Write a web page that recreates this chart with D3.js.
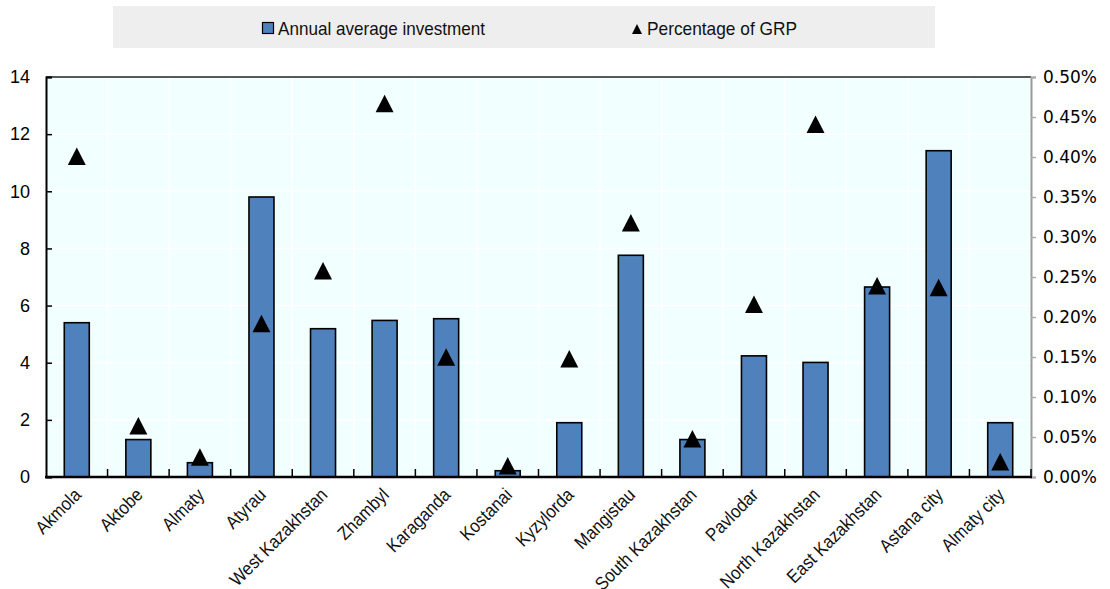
<!DOCTYPE html>
<html>
<head>
<meta charset="utf-8">
<script src="https://cdnjs.cloudflare.com/ajax/libs/d3/7.8.5/d3.min.js"></script>
<style>
  html, body { margin: 0; padding: 0; background: #fff; }
  svg { display: block; }
</style>
</head>
<body>
<svg id="chart" width="1110" height="589"></svg>
<script>
// Regions of Kazakhstan
const regions = ["Akmola", "Aktobe", "Almaty", "Atyrau", "West Kazakhstan", "Zhambyl",
  "Karaganda", "Kostanai", "Kyzylorda", "Mangistau", "South Kazakhstan", "Pavlodar",
  "North Kazakhstan", "East Kazakhstan", "Astana city", "Almaty city"];

// Annual average investment (left axis)
const investment = [5.40, 1.31, 0.50, 9.80, 5.19, 5.48, 5.54, 0.22, 1.90, 7.76,
  1.31, 4.24, 4.01, 6.65, 11.42, 1.90];

// Investment as a percentage of GRP (right axis, in %)
const pctGRP = [0.400, 0.063, 0.024, 0.191, 0.257, 0.466, 0.149, 0.013, 0.147, 0.317,
  0.047, 0.215, 0.440, 0.238, 0.236, 0.018];

const leftTicks = [0, 2, 4, 6, 8, 10, 12, 14];
const rightTicks = [0, 0.05, 0.10, 0.15, 0.20, 0.25, 0.30, 0.35, 0.40, 0.45, 0.50];

const seriesNames = ["Annual average investment", "Percentage of GRP"];

const svg = d3.select("#chart");
const plot = { left: 46, right: 1031, top: 77, bottom: 477 };

const x = d3.scaleBand().domain(regions).range([plot.left, plot.right]).paddingInner(0).paddingOuter(0);
const yL = d3.scaleLinear().domain([0, 14]).range([plot.bottom, plot.top]);
const yR = d3.scaleLinear().domain([0, 0.5]).range([plot.bottom, plot.top]);

const sans = "'Liberation Sans', Arial, sans-serif";

// Legend band (condensed text)
const lg = svg.append("g");
lg.append("rect").attr("x", 113).attr("y", 6).attr("width", 822).attr("height", 42).attr("fill", "#eeeeee");
lg.append("rect").attr("x", 262.5).attr("y", 22.5).attr("width", 11).attr("height", 11)
  .attr("fill", "#4f81bd").attr("stroke", "#000").attr("stroke-width", 1.2);
lg.append("text").attr("x", 278).attr("y", 35).text(seriesNames[0])
  .attr("textLength", 207).attr("lengthAdjust", "spacingAndGlyphs")
  .attr("font-family", sans).attr("font-size", 19).attr("fill", "#111");
lg.append("path").attr("d", "M0,-6 L5,4 L-5,4 Z").attr("transform", "translate(637,30)").attr("fill", "#000");
lg.append("text").attr("x", 647).attr("y", 35).text(seriesNames[1])
  .attr("textLength", 150).attr("lengthAdjust", "spacingAndGlyphs")
  .attr("font-family", sans).attr("font-size", 19).attr("fill", "#111");

// Plot background
svg.append("rect").attr("x", plot.left).attr("y", plot.top)
  .attr("width", plot.right - plot.left).attr("height", plot.bottom - plot.top)
  .attr("fill", "#f2ffff");

// White gridlines
const grid = svg.append("g").attr("stroke", "#ffffff").attr("stroke-width", 1.5);
grid.selectAll(".h").data(leftTicks.slice(1, -1)).join("line")
  .attr("x1", plot.left).attr("x2", plot.right)
  .attr("y1", d => yL(d)).attr("y2", d => yL(d));
grid.selectAll(".v").data(regions.slice(1)).join("line")
  .attr("x1", d => x(d)).attr("x2", d => x(d))
  .attr("y1", plot.top).attr("y2", plot.bottom);

// Bars
const bw = 25;
svg.append("g").selectAll("rect").data(regions).join("rect")
  .attr("x", (d) => x(d) + x.bandwidth() / 2 - bw / 2)
  .attr("y", (d, i) => yL(investment[i]))
  .attr("width", bw)
  .attr("height", (d, i) => plot.bottom - yL(investment[i]))
  .attr("fill", "#4f81bd").attr("stroke", "#000").attr("stroke-width", 1.6);

// Triangle markers
const tri = "M0,-9.5 L9,8 L-9,8 Z";
svg.append("g").selectAll("path").data(regions).join("path")
  .attr("d", tri)
  .attr("transform", (d, i) => `translate(${x(d) + x.bandwidth() / 2},${yR(pctGRP[i])})`)
  .attr("fill", "#000");

// Frame: top border
svg.append("line").attr("x1", plot.left).attr("x2", plot.right)
  .attr("y1", plot.top).attr("y2", plot.top).attr("stroke", "#222").attr("stroke-width", 1.5);

// Left axis
const axL = d3.axisLeft(yL).tickValues(leftTicks).tickSize(-6).tickPadding(16).tickFormat(d3.format("d"));
const gL = svg.append("g").attr("transform", `translate(${plot.left},0)`).call(axL);
gL.select(".domain").attr("stroke", "#000").attr("stroke-width", 2);
gL.selectAll(".tick line").attr("stroke", "#000").attr("stroke-width", 1.5);
gL.selectAll(".tick text").attr("font-family", sans)
  .attr("font-size", 18).attr("fill", "#000");

// Right axis
const axR = d3.axisRight(yR).tickValues(rightTicks).tickSize(5).tickPadding(7)
  .tickFormat(d => d3.format(".2f")(d) + "%");
const gR = svg.append("g").attr("transform", `translate(${plot.right},0)`).call(axR);
gR.select(".domain").attr("stroke", "#999").attr("stroke-width", 2);
gR.selectAll(".tick line").attr("stroke", "#aaa").attr("stroke-width", 1.5);
gR.selectAll(".tick text").attr("font-family", "'DejaVu Sans', Verdana, sans-serif")
  .attr("font-size", 17).attr("fill", "#000");

// Bottom axis
const gB = svg.append("g").attr("transform", `translate(0,${plot.bottom})`);
gB.append("line").attr("x1", plot.left - 1).attr("x2", plot.right + 1).attr("y1", 0).attr("y2", 0)
  .attr("stroke", "#000").attr("stroke-width", 2.5);
gB.selectAll(".tk").data(regions.slice(1).concat(["__end"])).join("line")
  .attr("x1", d => d === "__end" ? plot.right : x(d))
  .attr("x2", d => d === "__end" ? plot.right : x(d))
  .attr("y1", 0).attr("y2", -8).attr("stroke", "#000").attr("stroke-width", 1.5);
// Rotated, condensed category labels
gB.selectAll("text").data(regions).join("text")
  .attr("transform", d => `translate(${x(d) + x.bandwidth() / 2 + 5.5},19) rotate(-45) scale(0.9,1)`)
  .attr("text-anchor", "end")
  .attr("font-family", sans).attr("font-size", 18.5).attr("fill", "#111")
  .text(d => d);
</script>
</body>
</html>
